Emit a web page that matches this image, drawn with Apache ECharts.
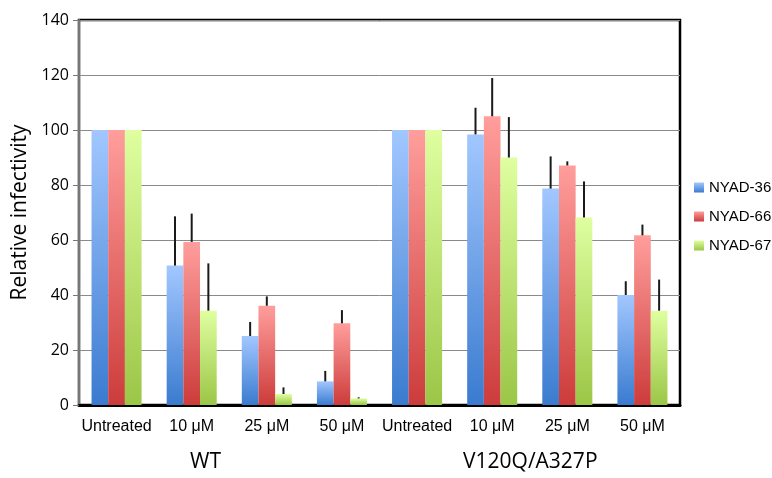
<!DOCTYPE html>
<html><head><meta charset="utf-8">
<script src="https://cdn.jsdelivr.net/npm/echarts@6/dist/echarts.min.js"></script>
<style>html,body{margin:0;padding:0;background:#fff}#c{width:772px;height:478px}</style>
</head><body><div id="c"></div>
<script>
const categories = ['Untreated', '10 μM', '25 μM', '50 μM', 'Untreated', '10 μM', '25 μM', '50 μM'];
const groups = ['WT', 'V120Q/A327P'];
const seriesNames = ['NYAD-36', 'NYAD-66', 'NYAD-67'];
const nyad36 = [100, 50.7, 25.1, 8.6, 100, 98.4, 78.7, 40.0];
const nyad66 = [100, 59.3, 36.1, 29.7, 100, 105.0, 87.1, 61.7];
const nyad67 = [100, 34.3, 4.0, 2.4, 100, 90.0, 68.2, 34.3];
const err36 = [0, 17.9, 5.1, 3.8, 0, 9.7, 11.7, 5.0];
const err66 = [0, 10.3, 3.4, 4.8, 0, 13.9, 1.5, 3.9];
const err67 = [0, 17.2, 2.4, 0.4, 0, 14.7, 13.1, 11.3];
const yTicks = [0, 20, 40, 60, 80, 100, 120, 140];

const chart = echarts.init(document.getElementById('c'));
function grad(top, bottom) {
  return new echarts.graphic.LinearGradient(0, 0, 0, 1, [{offset: 0, color: top}, {offset: 1, color: bottom}]);
}
const colors = [grad('#a2c7ff', '#3a7bcf'), grad('#ff9e9c', '#cc3c3b'), grad('#dfffa0', '#9bc646')];
const values = [nyad36, nyad66, nyad67];
const errs = [err36, err66, err67];
const BAR_FRAC = 0.222;

const series = [];
values.forEach((v, i) => {
  series.push({
    name: seriesNames[i], type: 'bar', data: v, barWidth: '22.2%', barGap: '0%',
    itemStyle: {color: colors[i]}, z: 3
  });
});
values.forEach((v, i) => {
  series.push({
    type: 'custom', z: 4, silent: true,
    data: v.map((val, k) => [k, val, val + errs[i][k], errs[i][k]]),
    renderItem: function (params, api) {
      if (api.value(3) <= 0) return null;
      const band = api.size([1, 0])[0];
      const p0 = api.coord([api.value(0), api.value(1)]);
      const p1 = api.coord([api.value(0), api.value(2)]);
      const x = p0[0] + (i - 1) * band * BAR_FRAC;
      return {type: 'line', shape: {x1: x, y1: p0[1], x2: x, y2: p1[1]},
        style: {stroke: '#1a1a1a', lineWidth: 2}};
    }
  });
});

chart.setOption({
  animation: false,
  grid: {left: 79, right: 92, top: 20, bottom: 73, show: true, borderColor: '#000', borderWidth: 2.5, backgroundColor: '#fff'},
  legend: {
    data: seriesNames, orient: 'vertical', left: 689, top: 175,
    itemWidth: 10, itemHeight: 10, itemGap: 14, icon: 'rect',
    textStyle: {fontFamily: 'Liberation Sans', fontSize: 15, color: '#000'}
  },
  xAxis: {
    type: 'category', data: categories,
    axisLine: {lineStyle: {color: '#000', width: 3}},
    axisTick: {show: false},
    axisLabel: {interval: 0, margin: 14, fontFamily: 'Liberation Sans', fontSize: 16, color: '#000'}
  },
  yAxis: {
    type: 'value', min: 0, max: 140, interval: 20,
    name: 'Relative infectivity', nameLocation: 'middle', nameGap: 47,
    nameTextStyle: {fontFamily: 'Open Sans', fontSize: 21, color: '#000'},
    axisLine: {show: true, lineStyle: {color: '#777', width: 2}},
    axisTick: {show: true, length: 6, lineStyle: {color: '#777'}},
    axisLabel: {margin: 10, fontFamily: 'Open Sans', fontSize: 16, color: '#000',
      formatter: v => yTicks.includes(v) ? String(v) : ''},
    splitLine: {lineStyle: {color: '#8a8a8a', width: 1}}
  },
  graphic: [
    {type: 'text', left: 190, top: 452, style: {text: groups[0], font: '21px "Open Sans"', fill: '#000'}},
    {type: 'text', left: 463, top: 452, style: {text: groups[1], font: '21px "Open Sans"', fill: '#000'}}
  ],
  series: series
});
</script></body></html>
